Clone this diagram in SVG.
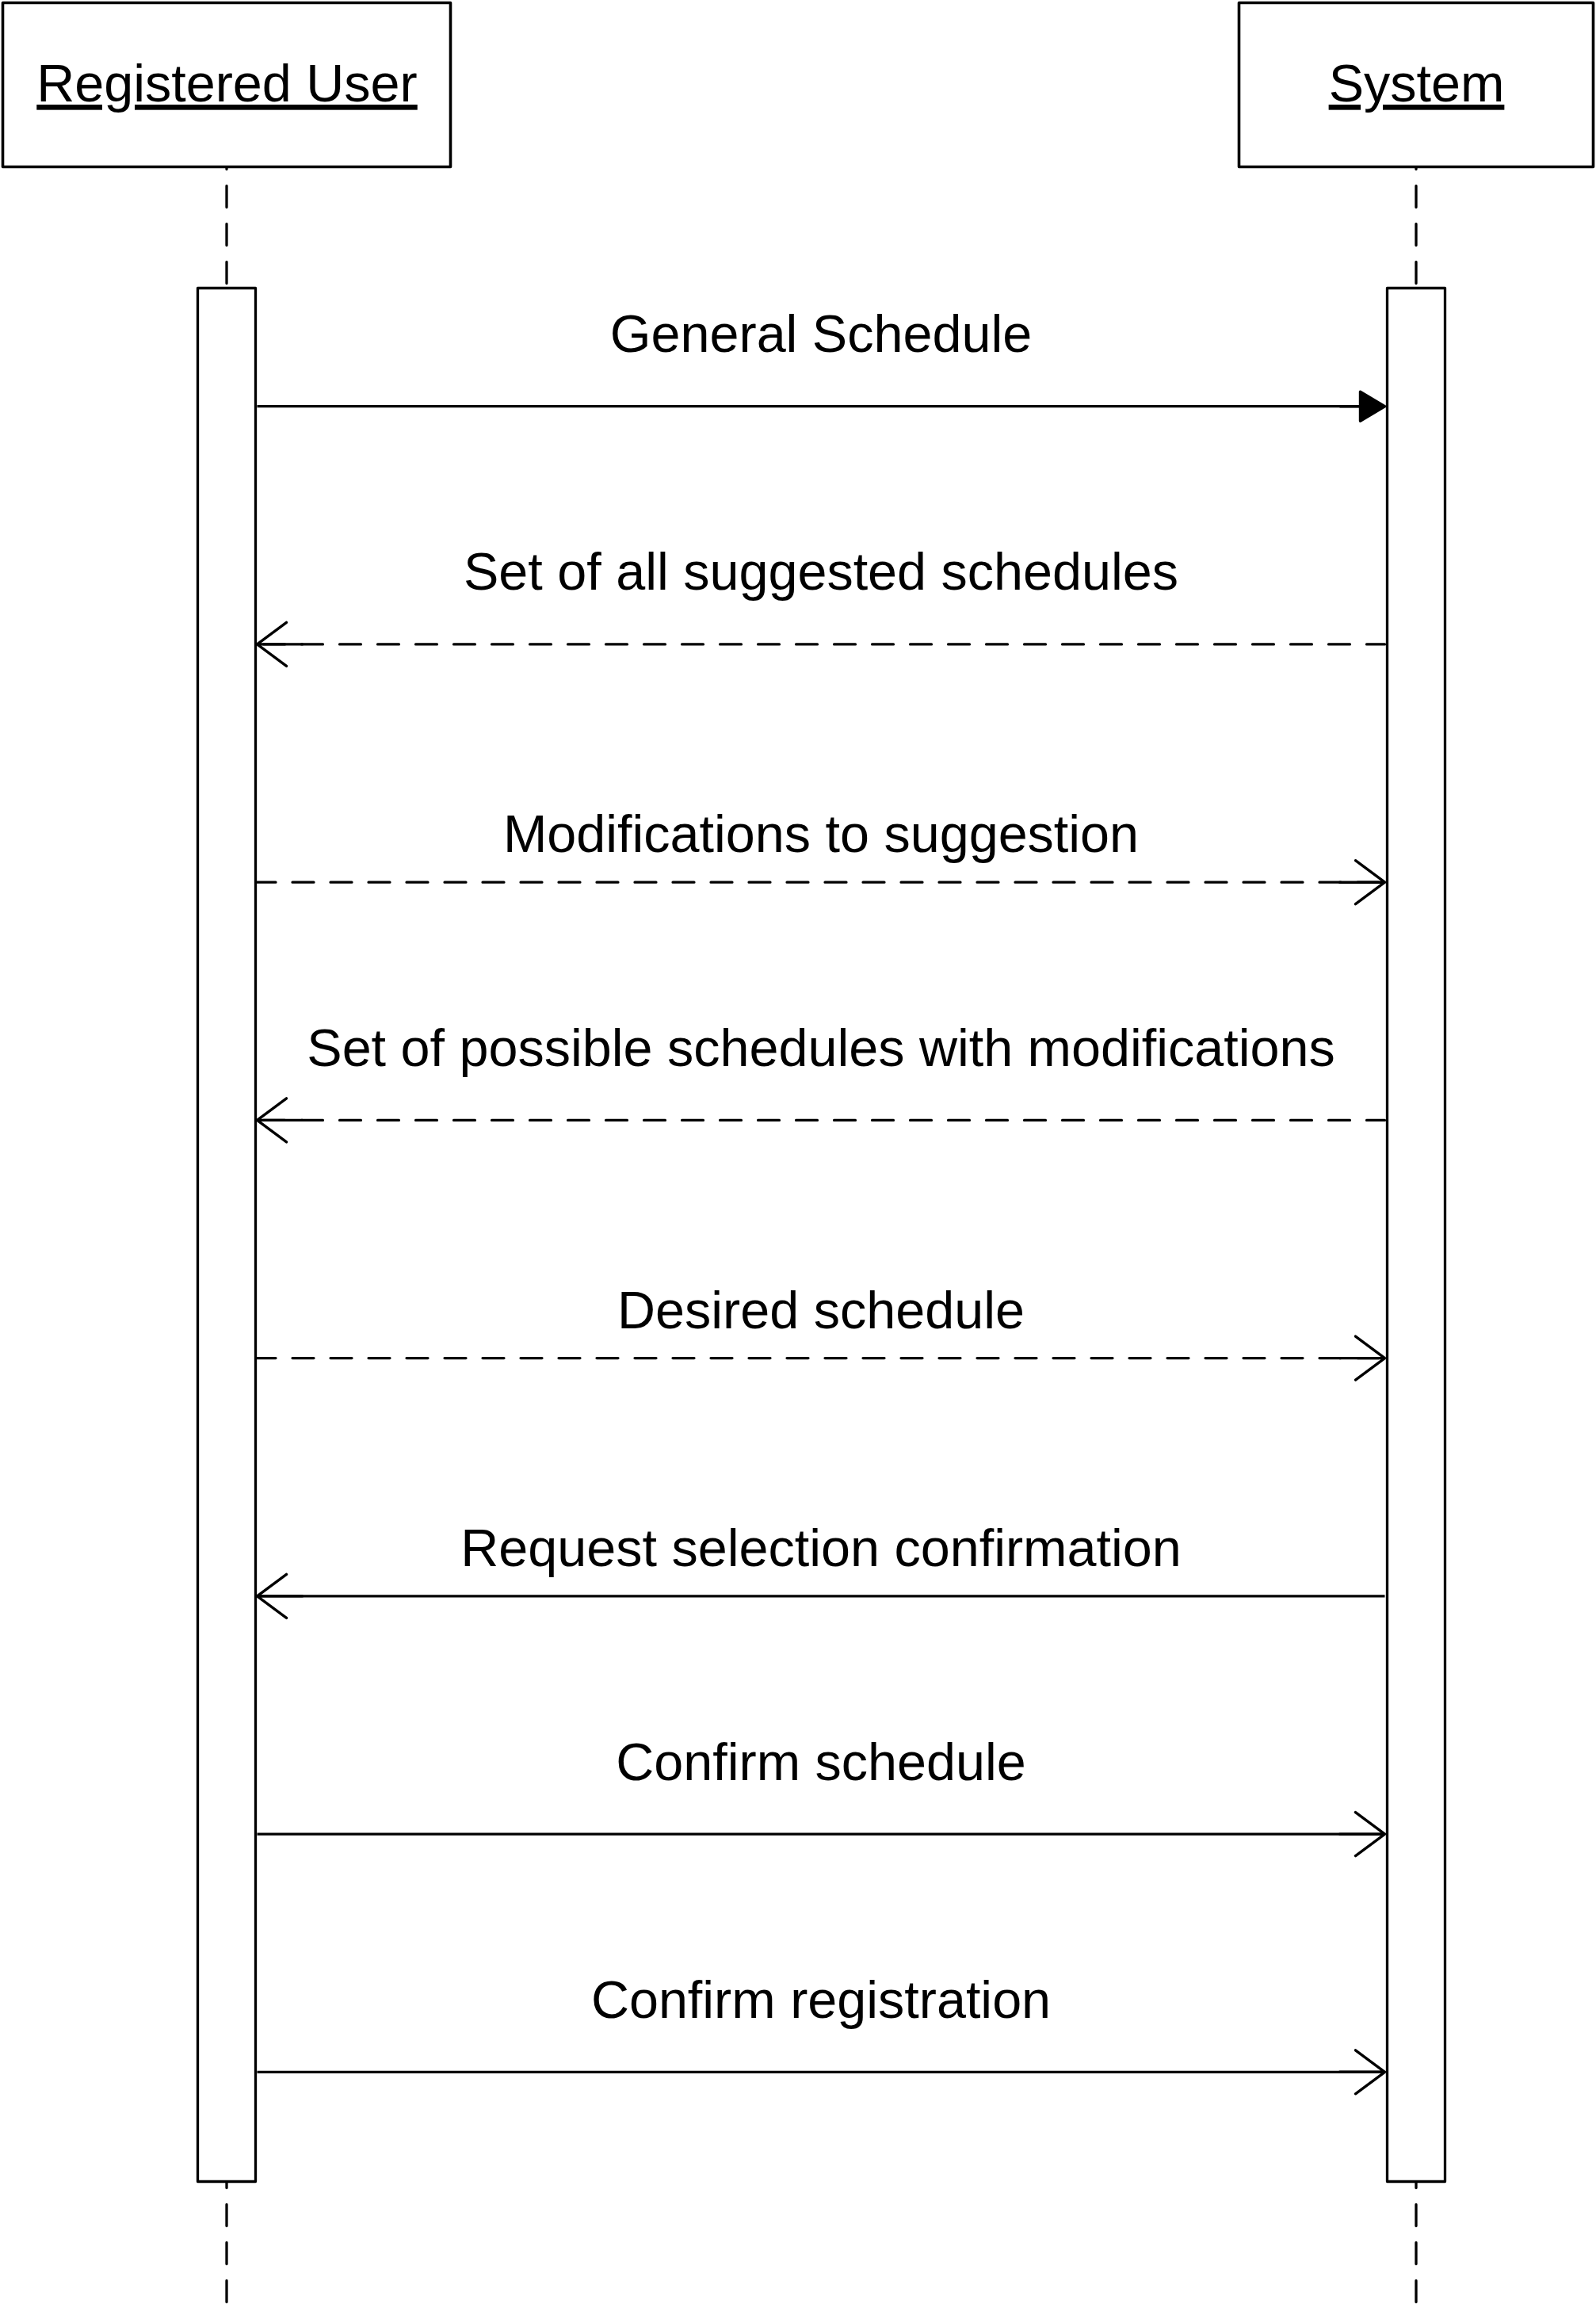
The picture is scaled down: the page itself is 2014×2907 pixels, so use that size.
<svg xmlns="http://www.w3.org/2000/svg" width="2014" height="2907" viewBox="0 0 2014 2907">
<style>
.box{fill:#fff;stroke:#000;stroke-width:3.6;stroke-linejoin:round}
.act{fill:#fff;stroke:#000;stroke-width:3.3;stroke-linejoin:round}
.life{stroke:#000;stroke-width:3.3;stroke-dasharray:27 21;stroke-linecap:round;fill:none}
.msg{stroke:#000;stroke-width:3.2;fill:none}
.dash{stroke-dasharray:27 21;stroke-linecap:round}
.t{font-family:"Liberation Sans",Arial,sans-serif;font-size:66.5px;fill:#000;text-anchor:middle}
.u{text-decoration:underline}
</style>
<defs>
<marker id="open" markerUnits="userSpaceOnUse" viewBox="-64 -34 68 68" markerWidth="68" markerHeight="68" refX="0" refY="0" orient="auto" overflow="visible">
<path d="M-37,-27.5 L0,0 L-37,27.5 M0,0 H-57" fill="none" stroke="#000" stroke-width="3.4" stroke-linecap="round" stroke-linejoin="round"/>
</marker>
<marker id="filled" markerUnits="userSpaceOnUse" viewBox="-64 -34 68 68" markerWidth="68" markerHeight="68" refX="0" refY="0" orient="auto" overflow="visible">
<path d="M0,0 L-31,-18.5 L-31,18.5 Z M0,0 H-57" fill="#000" stroke="#000" stroke-width="3.4" stroke-linejoin="round"/>
</marker>
</defs>
<rect width="2014" height="2907" fill="#fff"/>
<g id="node-user">
<rect class="box" x="3.5" y="3.5" width="565" height="207"/>
<text class="t u" x="286.5" y="128">Registered User</text>
<line class="life" x1="286" y1="212" x2="286" y2="362" stroke-dashoffset="25.5"/>
<line class="life" x1="286" y1="2754" x2="286" y2="2907" stroke-dashoffset="20.5"/>
<rect class="act" x="249.5" y="363.5" width="73" height="2389"/>
</g>
<g id="node-system">
<rect class="box" x="1563.5" y="3.5" width="447" height="207"/>
<text class="t u" x="1787.5" y="128">System</text>
<line class="life" x1="1787" y1="212" x2="1787" y2="362" stroke-dashoffset="25.5"/>
<line class="life" x1="1787" y1="2754" x2="1787" y2="2907" stroke-dashoffset="20.5"/>
<rect class="act" x="1750.5" y="363.5" width="73" height="2389"/>
</g>
<g id="connectors">
<g id="m1"><line class="msg" x1="324.5" y1="512.7" x2="1747.5" y2="512.7" marker-end="url(#filled)"/><text class="t" x="1036" y="444.2">General Schedule</text></g>
<g id="m2"><line class="msg dash" x1="1747.5" y1="812.9" x2="324.5" y2="812.9" stroke-dashoffset="4" marker-end="url(#open)"/><text class="t" x="1036" y="744.4">Set of all suggested schedules</text></g>
<g id="m3"><line class="msg dash" x1="324.5" y1="1113.2" x2="1747.5" y2="1113.2" stroke-dashoffset="3.5" marker-end="url(#open)"/><text class="t" x="1036" y="1075.2">Modifications to suggestion</text></g>
<g id="m4"><line class="msg dash" x1="1747.5" y1="1413.4" x2="324.5" y2="1413.4" stroke-dashoffset="4" marker-end="url(#open)"/><text class="t" x="1036" y="1344.9">Set of possible schedules with modifications</text></g>
<g id="m5"><line class="msg dash" x1="324.5" y1="1713.6" x2="1747.5" y2="1713.6" stroke-dashoffset="3.5" marker-end="url(#open)"/><text class="t" x="1036" y="1675.6">Desired schedule</text></g>
<g id="m6"><line class="msg" x1="1747.5" y1="2013.9" x2="324.5" y2="2013.9" marker-end="url(#open)"/><text class="t" x="1036" y="1975.9">Request selection confirmation</text></g>
<g id="m7"><line class="msg" x1="324.5" y1="2314.1" x2="1747.5" y2="2314.1" marker-end="url(#open)"/><text class="t" x="1036" y="2245.6">Confirm schedule</text></g>
<g id="m8"><line class="msg" x1="324.5" y1="2614.3" x2="1747.5" y2="2614.3" marker-end="url(#open)"/><text class="t" x="1036" y="2545.8">Confirm registration</text></g>
</g>
</svg>
